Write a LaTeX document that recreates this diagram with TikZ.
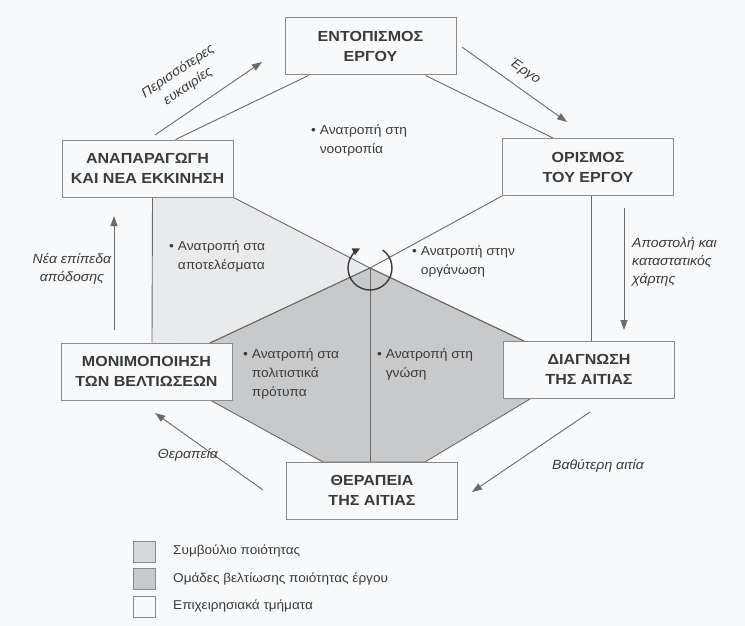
\documentclass[tikz,border=0pt]{standalone}
\usepackage{fontspec}
\setmainfont{Liberation Sans}
\newfontfamily\boxfont[FakeStretch=1.1]{Liberation Sans}
\newfontfamily\lblfont[FakeStretch=1.06]{Liberation Sans}
\usetikzlibrary{arrows.meta,calc}
\definecolor{bg}{HTML}{F7F9FB}
\definecolor{lightg}{HTML}{E9EAEC}
\definecolor{darkg}{HTML}{C8C9CB}
\definecolor{legl}{HTML}{D6D7D9}
\definecolor{ink}{HTML}{3A3A3A}
\definecolor{linec}{HTML}{6A6A6A}
\definecolor{boxc}{HTML}{8A8A8A}
\begin{document}
\begin{tikzpicture}[x=1pt,y=-1pt,
  box/.style={draw=boxc, fill=bg, line width=1pt, minimum width=171pt, minimum height=57pt,
    align=center, font=\boxfont\fontsize{14.6}{20}\selectfont\bfseries, text=ink, inner sep=0pt},
  conn/.style={draw=linec, line width=0.9pt},
  flow/.style={draw=linec, line width=0.9pt, -{Triangle[length=10pt,width=7pt]}},
  lbl/.style={font=\lblfont\fontsize{13.3}{18}\selectfont\itshape, text=ink, align=center, inner sep=0pt},
  bul/.style={font=\lblfont\fontsize{13}{19}\selectfont, text=ink, align=left, anchor=north west, inner sep=0pt},
  leg/.style={draw=boxc, line width=0.8pt, minimum width=22pt, minimum height=21pt, inner sep=0pt},
  legt/.style={font=\lblfont\fontsize{12.8}{15}\selectfont, text=ink, anchor=west, inner sep=0pt},
]
\fill[bg] (0,0) rectangle (745,626);
\useasboundingbox (0,0) rectangle (745,626);

% boxes (positioned first, drawn again on top)
\path
  (370.5,46.5) node[box] (ent) {ΕΝΤΟΠΙΣΜΟΣ\\ΕΡΓΟΥ}
  (588,167)    node[box] (ori) {ΟΡΙΣΜΟΣ\\ΤΟΥ ΕΡΓΟΥ}
  (147.5,168.5) node[box] (ana) {ΑΝΑΠΑΡΑΓΩΓΗ\\ΚΑΙ ΝΕΑ ΕΚΚΙΝΗΣΗ}
  (146.5,371.5) node[box] (mon) {ΜΟΝΙΜΟΠΟΙΗΣΗ\\ΤΩΝ ΒΕΛΤΙΩΣΕΩΝ}
  (589,369.5)  node[box] (dia) {ΔΙΑΓΝΩΣΗ\\ΤΗΣ ΑΙΤΙΑΣ}
  (372,490.5)  node[box] (the) {ΘΕΡΑΠΕΙΑ\\ΤΗΣ ΑΙΤΙΑΣ};

\coordinate (c) at (370,268);
\coordinate (monTR) at (210,343);
\coordinate (diaTL) at (524,341);

% shaded regions
\fill[lightg] ([xshift=5pt]ana.south) -- (ana.south east) -- (c) -- (monTR) -- ([xshift=5.5pt]mon.north) -- cycle;
\fill[darkg, draw=linec, line width=0.9pt] (c) -- (monTR) -- (210,400) -- (323,462) -- (425,462) -- (530,399) -- (diaTL) -- cycle;

% hexagon connectors
\draw[conn] ([xshift=-62pt]ent.south) -- ([xshift=28pt]ana.north);
\draw[conn] ([xshift=55pt]ent.south) -- ([xshift=-35pt]ori.north);
\draw[conn] (ana.south east) -- (c) -- (diaTL);
\draw[conn] (ori.south west) -- (c) -- (monTR);
\draw[conn] ([xshift=5pt]ana.south) -- ([xshift=5.5pt]mon.north);
\draw[conn] ([xshift=3pt]ori.south) -- ([xshift=2pt]dia.north);
\draw[conn] (c) -- (c |- the.north);

% circular arrow (y axis points down: angles run clockwise on the page)
\draw[draw=ink, line width=1.4pt, -{Triangle[length=7.5pt,width=7pt]}]
  ($(c)+(-55:22)$) arc[start angle=-55, end angle=243, radius=22];

% boxes on top
\foreach \n/\t in {ent/{ΕΝΤΟΠΙΣΜΟΣ\\ΕΡΓΟΥ}, ori/{ΟΡΙΣΜΟΣ\\ΤΟΥ ΕΡΓΟΥ}, ana/{ΑΝΑΠΑΡΑΓΩΓΗ\\ΚΑΙ ΝΕΑ ΕΚΚΙΝΗΣΗ}, mon/{ΜΟΝΙΜΟΠΟΙΗΣΗ\\ΤΩΝ ΒΕΛΤΙΩΣΕΩΝ}, dia/{ΔΙΑΓΝΩΣΗ\\ΤΗΣ ΑΙΤΙΑΣ}, the/{ΘΕΡΑΠΕΙΑ\\ΤΗΣ ΑΙΤΙΑΣ}}
  \node[box] at (\n) {\t};

% outer flow arrows
\coordinate (a1s) at (155,135); \coordinate (a1e) at (262,62);
\coordinate (a2s) at (462,47);  \coordinate (a2e) at (567,122);
\coordinate (a3s) at (624,208); \coordinate (a3e) at (624,330);
\coordinate (a4s) at (590,412); \coordinate (a4e) at (472,492);
\coordinate (a5s) at (263,490); \coordinate (a5e) at (155,413);
\coordinate (a6s) at (114,330); \coordinate (a6e) at (114,216);
\draw[flow] (a1s) -- (a1e);
\draw[flow] (a2s) -- (a2e);
\draw[flow] (a3s) -- (a3e);
\draw[flow] (a4s) -- (a4e);
\draw[flow] (a5s) -- (a5e);
\draw[flow] (a6s) -- (a6e);

% arrow labels
\node[lbl, rotate=34] (l1) at (183,79) {Περισσότερες\\ευκαιρίες};
\node[lbl, rotate=-35] (l2) at (525,72) {Έργο};
\node[lbl, align=left, anchor=north west] (l3) at (632,237) {Αποστολή και\\καταστατικός\\χάρτης};
\node[lbl] (l4) at (598,466) {Βαθύτερη αιτία};
\node[lbl] (l5) at (188,455) {Θεραπεία};
\node[lbl] (l6) at (72,269) {Νέα επίπεδα\\απόδοσης};

% bullet texts
\node[bul] (b1) at (311,125) {•~Ανατροπή στη\\\phantom{•~}νοοτροπία};
\node[bul] (b2) at (169,241) {•~Ανατροπή στα\\\phantom{•~}αποτελέσματα};
\node[bul] (b3) at (412,246) {•~Ανατροπή στην\\\phantom{•~}οργάνωση};
\node[bul] (b4) at (243,349) {•~Ανατροπή στα\\\phantom{•~}πολιτιστικά\\\phantom{•~}πρότυπα};
\node[bul] (b5) at (377,349) {•~Ανατροπή στη\\\phantom{•~}γνώση};

% legend
\node[leg, fill=legl]  (k1) at (144.5,551.5) {};
\node[leg, fill=darkg] (k2) at (144.5,579) {};
\node[leg, fill=bg]    (k3) at (144.5,606.5) {};
\node[legt] (t1) at (173,551.5) {Συμβούλιο ποιότητας};
\node[legt] (t2) at (173,579) {Ομάδες βελτίωσης ποιότητας έργου};
\node[legt] (t3) at (173,606.5) {Επιχειρησιακά τμήματα};
\end{tikzpicture}
\end{document}
